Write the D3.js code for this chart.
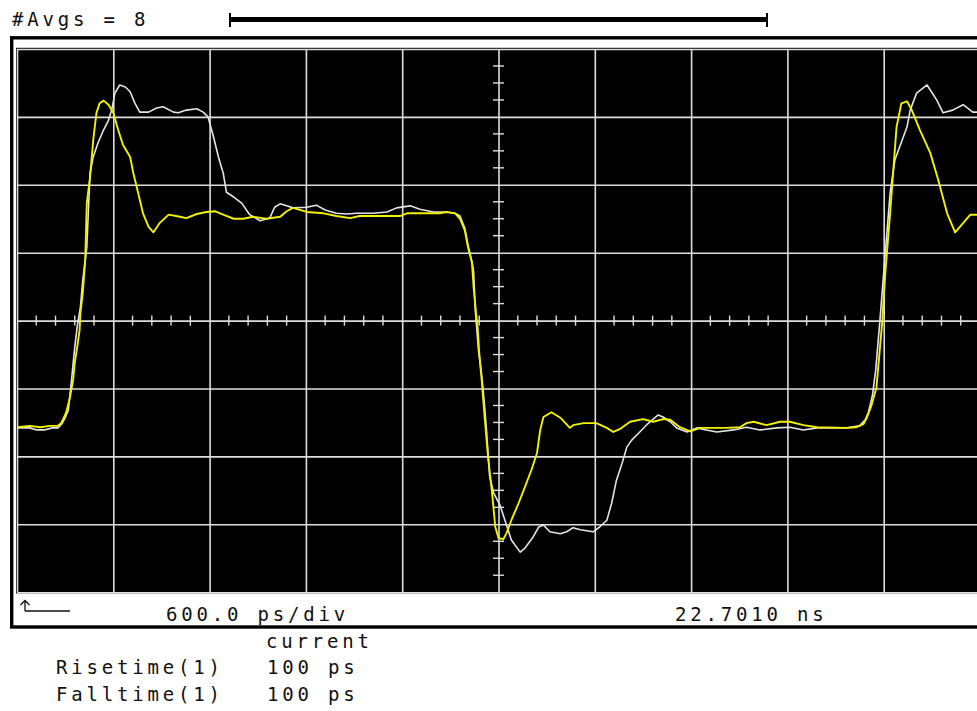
<!DOCTYPE html>
<html>
<head>
<meta charset="utf-8">
<script src="https://cdn.jsdelivr.net/npm/d3@7"></script>
<style>
  html, body { margin: 0; padding: 0; background: #ffffff; }
  svg { display: block; }
  text { font-family: "DejaVu Sans Mono", "Liberation Mono", monospace; font-size: 19px; letter-spacing: 3.8px; fill: #111; }
</style>
</head>
<body>
<svg id="chart" width="977" height="711"></svg>
<script>
// ---- data (time in ps relative to 22.7010 ns centre, level in divisions) ----
const timeGrid = [-3000, -2400, -1800, -1200, -600, 0, 600, 1200, 1800, 2400, 3000];
const levelGrid = [-4, -3, -2, -1, 0, 1, 2, 3, 4];

const yellowTime = [-3000,-2920,-2855,-2795,-2745,-2725,-2700,-2690,-2670,-2650,-2640,-2625,-2610,-2605,-2590,-2575,-2565,-2545,-2525,-2505,-2485,-2460,-2430,-2400,-2370,-2340,-2295,-2275,-2245,-2215,-2180,-2150,-2110,-2055,-1985,-1945,-1880,-1820,-1765,-1715,-1650,-1590,-1530,-1445,-1360,-1320,-1280,-1195,-1090,-1010,-925,-865,-675,-615,-570,-445,-365,-325,-270,-240,-210,-190,-165,-155,-140,-130,-120,-105,-85,-65,-40,-20,0,30,50,80,125,165,205,240,260,280,330,385,445,465,530,610,675,715,755,820,900,965,1025,1070,1130,1195,1255,1420,1505,1545,1590,1670,1755,1815,1900,1985,2170,2230,2275,2295,2325,2355,2390,2410,2440,2460,2480,2510,2545,2575,2625,2690,2740,2795,2845,2940,3000];
const yellowLevel = [-1.57,-1.55,-1.57,-1.55,-1.55,-1.51,-1.39,-1.32,-1.13,-0.87,-0.62,-0.39,-0.14,0.11,0.41,0.89,1.73,2.11,2.66,3.06,3.20,3.24,3.18,3.06,2.81,2.59,2.41,2.17,1.88,1.58,1.38,1.30,1.44,1.56,1.53,1.51,1.57,1.60,1.61,1.56,1.50,1.50,1.53,1.50,1.53,1.61,1.66,1.60,1.58,1.54,1.51,1.54,1.54,1.54,1.58,1.58,1.58,1.60,1.58,1.50,1.33,1.08,0.85,0.49,0.11,-0.09,-0.48,-0.87,-1.46,-2.01,-2.54,-3.04,-3.20,-3.22,-3.13,-2.94,-2.69,-2.45,-2.20,-1.95,-1.61,-1.42,-1.35,-1.43,-1.58,-1.54,-1.51,-1.51,-1.58,-1.64,-1.60,-1.49,-1.45,-1.49,-1.45,-1.46,-1.57,-1.63,-1.58,-1.58,-1.57,-1.51,-1.49,-1.54,-1.49,-1.49,-1.54,-1.57,-1.58,-1.57,-1.52,-1.43,-1.24,-0.98,-0.04,0.70,1.58,2.22,2.85,3.20,3.23,3.10,2.81,2.47,2.07,1.58,1.30,1.56,1.56];

const whiteTime = [-3000,-2920,-2875,-2830,-2780,-2745,-2720,-2700,-2680,-2660,-2640,-2625,-2605,-2590,-2565,-2545,-2525,-2495,-2460,-2430,-2410,-2390,-2360,-2325,-2295,-2265,-2235,-2180,-2130,-2090,-2025,-1995,-1945,-1880,-1840,-1810,-1775,-1745,-1715,-1695,-1650,-1600,-1550,-1485,-1425,-1395,-1360,-1320,-1280,-1195,-1135,-1080,-1010,-945,-885,-780,-695,-635,-550,-490,-405,-325,-270,-240,-210,-190,-165,-155,-145,-125,-105,-90,-75,-55,-30,10,40,80,135,165,215,250,280,320,385,425,465,510,590,630,675,705,735,770,800,830,880,930,995,1025,1070,1110,1175,1235,1295,1360,1465,1545,1630,1735,1815,1900,1985,2170,2250,2285,2305,2330,2350,2375,2410,2440,2470,2545,2565,2605,2670,2730,2770,2830,2895,2955,3000];
const whiteLevel = [-1.58,-1.58,-1.61,-1.61,-1.58,-1.58,-1.52,-1.43,-1.32,-0.87,-0.39,-0.09,0.20,0.60,1.08,2.17,2.41,2.62,2.81,2.95,3.10,3.35,3.47,3.44,3.37,3.20,3.07,3.07,3.13,3.15,3.07,3.06,3.10,3.12,3.07,3.00,2.70,2.41,2.17,1.89,1.82,1.73,1.56,1.47,1.51,1.67,1.72,1.69,1.66,1.67,1.70,1.63,1.58,1.57,1.58,1.58,1.60,1.66,1.69,1.64,1.60,1.60,1.58,1.54,1.36,1.11,0.86,0.72,0.16,-0.43,-0.80,-1.17,-1.61,-2.30,-2.54,-2.72,-2.94,-3.23,-3.41,-3.35,-3.19,-3.04,-3.01,-3.11,-3.14,-3.11,-3.05,-3.08,-3.11,-3.04,-2.94,-2.69,-2.35,-2.10,-1.86,-1.76,-1.64,-1.52,-1.39,-1.42,-1.49,-1.58,-1.64,-1.58,-1.61,-1.64,-1.61,-1.57,-1.61,-1.58,-1.57,-1.61,-1.58,-1.58,-1.55,-1.46,-1.35,-1.10,-0.73,-0.04,1.00,1.88,2.37,2.85,3.10,3.35,3.47,3.25,3.06,3.10,3.18,3.07,3.07];

const headerText = "#Avgs = 8";
const timebaseText = "600.0 ps/div";
const positionText = "22.7010 ns";
const measHeader = "current";
const measNames = ["Risetime(1)", "Falltime(1)"];
const measValues = ["100 ps", "100 ps"];

// ---- layout ----
const svg = d3.select("#chart");
const plotL = 17, plotR = 980, plotT = 49, plotB = 592.2;

const x = d3.scaleLinear().domain([-3000, 3000]).range([plotL, plotR]);
const y = d3.scaleLinear().domain([-4, 4]).range([plotB, plotT]);

// header text and record bar
svg.append("text").attr("x", 12).attr("y", 26).text(headerText);
svg.append("line").attr("x1", 230).attr("x2", 767).attr("y1", 19.5).attr("y2", 19.5)
  .attr("stroke", "#000").attr("stroke-width", 5);
[230, 767].forEach(px => svg.append("line").attr("x1", px).attr("x2", px)
  .attr("y1", 13).attr("y2", 27).attr("stroke", "#000").attr("stroke-width", 2));

// outer frame
svg.append("rect").attr("x", 11.7).attr("y", 37.8).attr("width", 1000).attr("height", 589.2)
  .attr("fill", "none").attr("stroke", "#000").attr("stroke-width", 3.4);

// plot background
svg.append("rect").attr("x", plotL - 1).attr("y", plotT - 1.2)
  .attr("width", plotR - plotL + 4).attr("height", plotB - plotT + 2.4).attr("fill", "#000");

const gridColor = "#dedede";
// vertical grid via axis
const gx = svg.append("g").attr("transform", `translate(0,${plotT})`)
  .call(d3.axisBottom(x).tickValues(timeGrid).tickSize(plotB - plotT).tickFormat(""));
gx.select(".domain").remove();
gx.selectAll(".tick line").attr("stroke", gridColor).attr("stroke-width", 1.6);
// horizontal grid via axis
const gy = svg.append("g").attr("transform", `translate(${plotL},0)`)
  .call(d3.axisRight(y).tickValues(levelGrid).tickSize(plotR - plotL).tickFormat(""));
gy.select(".domain").remove();
gy.selectAll(".tick line").attr("stroke", gridColor).attr("stroke-width", 1.6);

// minor ticks on centre axes
const minorT = d3.range(-3000, 3001, 120).filter(t => t % 600 !== 0);
svg.append("g").selectAll("line").data(minorT).join("line")
  .attr("x1", d => x(d)).attr("x2", d => x(d))
  .attr("y1", y(0) - 5).attr("y2", y(0) + 5)
  .attr("stroke", gridColor).attr("stroke-width", 1.4);
const minorV = d3.range(-4, 4.001, 0.25).filter(v => Math.abs(v - Math.round(v)) > 1e-6);
svg.append("g").selectAll("line").data(minorV).join("line")
  .attr("x1", x(0) - 5.5).attr("x2", x(0) + 5.5)
  .attr("y1", d => y(d)).attr("y2", d => y(d))
  .attr("stroke", gridColor).attr("stroke-width", 1.4);

// traces
svg.append("defs").append("clipPath").attr("id", "clip")
  .append("rect").attr("x", plotL).attr("y", plotT).attr("width", plotR - plotL).attr("height", plotB - plotT);

const line = d3.line().x(d => x(d[0])).y(d => y(d[1]));
const whiteData = whiteTime.map((t, i) => [t, whiteLevel[i]]);
const yellowData = yellowTime.map((t, i) => [t, yellowLevel[i]]);

svg.append("path").datum(whiteData).attr("d", line).attr("clip-path", "url(#clip)")
  .attr("fill", "none").attr("stroke", "#e4e4e4").attr("stroke-width", 1.6).attr("stroke-linejoin", "round");
svg.append("path").datum(yellowData).attr("d", line).attr("clip-path", "url(#clip)")
  .attr("fill", "none").attr("stroke", "#f2f200").attr("stroke-width", 1.9).attr("stroke-linejoin", "round");

// ground marker
svg.append("path").attr("d", "M25,611 L25,601 M20.5,605 L25,600.5 L29.5,605 M25,611 L70,611")
  .attr("fill", "none").attr("stroke", "#111").attr("stroke-width", 1.3);

// bottom labels
svg.append("text").attr("x", 166).attr("y", 620.5).text(timebaseText);
svg.append("text").attr("x", 675).attr("y", 620.5).text(positionText);

// measurements
svg.append("text").attr("x", 266).attr("y", 648).text(measHeader);
measNames.forEach((n, i) => {
  svg.append("text").attr("x", 56).attr("y", 674 + i * 27).text(n);
  svg.append("text").attr("x", 267).attr("y", 674 + i * 27).text(measValues[i]);
});
</script>
</body>
</html>
